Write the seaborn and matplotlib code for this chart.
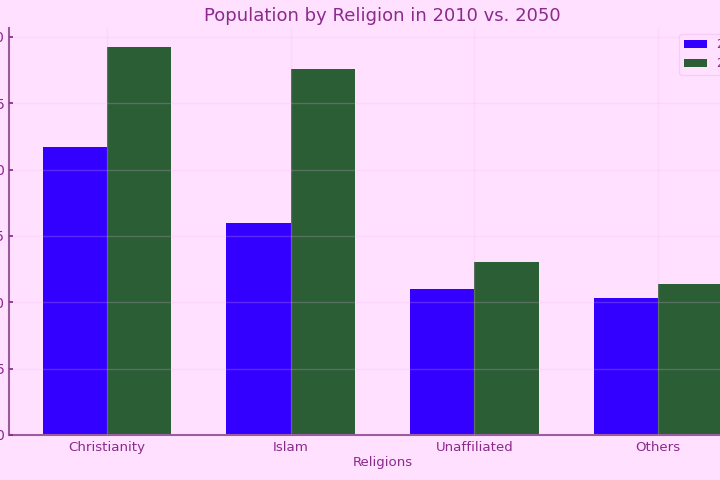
import matplotlib
matplotlib.use("Agg")
import matplotlib.pyplot as plt
import seaborn as sns
import pandas as pd

religions = ["Christianity", "Islam", "Unaffiliated", "Others"]
pop_2010 = [2.17, 1.60, 1.10, 1.03]
pop_2050 = [2.92, 2.76, 1.30, 1.14]
years = ["2010", "2050"]

df = pd.DataFrame({
    "Religion": religions * 2,
    "Population": pop_2010 + pop_2050,
    "Year": [years[0]] * len(religions) + [years[1]] * len(religions),
})

sns.set_theme(style="white")
plt.rcParams['font.family'] = ['DejaVu Sans']
purple = "#8B2A8B"
bg = "#FFE0FF"

fig = plt.figure(figsize=(7.2, 4.8), dpi=100, facecolor=bg)
ax = fig.add_axes([9/720, 45/480, 747/720, 407/480])
ax.set_facecolor(bg)

sns.barplot(data=df, x="Religion", y="Population", hue="Year",
            palette=["#3300FF", "#2B5E35"], width=0.7, gap=0,
            saturation=1, ax=ax, legend=True, linewidth=0)
ax.set_xlim(-0.535, 3.535)
ax.set_ylim(0, 3.066)
ax.set_yticks([0, 0.5, 1.0, 1.5, 2.0, 2.5, 3.0])

ax.grid(True, color="#F0B8F0", alpha=0.22, linewidth=1)
ax.set_axisbelow(False)

for s in ["top", "right"]:
    ax.spines[s].set_visible(False)
for s in ["left", "bottom"]:
    ax.spines[s].set_color("#9A5A9E")
    ax.spines[s].set_linewidth(1.5)

ax.tick_params(axis="y", colors=purple, labelsize=10, length=3, direction="in",
               left=True, pad=3)
ax.tick_params(axis="x", colors=purple, labelsize=9.6, length=0, pad=4)
ax.set_title("Population by Religion in 2010 vs. 2050", color=purple, fontsize=13, pad=5)
ax.set_xlabel("Religions", color=purple, fontsize=9.6, labelpad=2)
ax.set_ylabel("")

leg = ax.legend(loc="upper right", facecolor=bg, edgecolor="#F5C8F5", fontsize=8.3)
for t in leg.get_texts():
    t.set_color(purple)

fig.savefig("out.png", dpi=100, facecolor=bg)
